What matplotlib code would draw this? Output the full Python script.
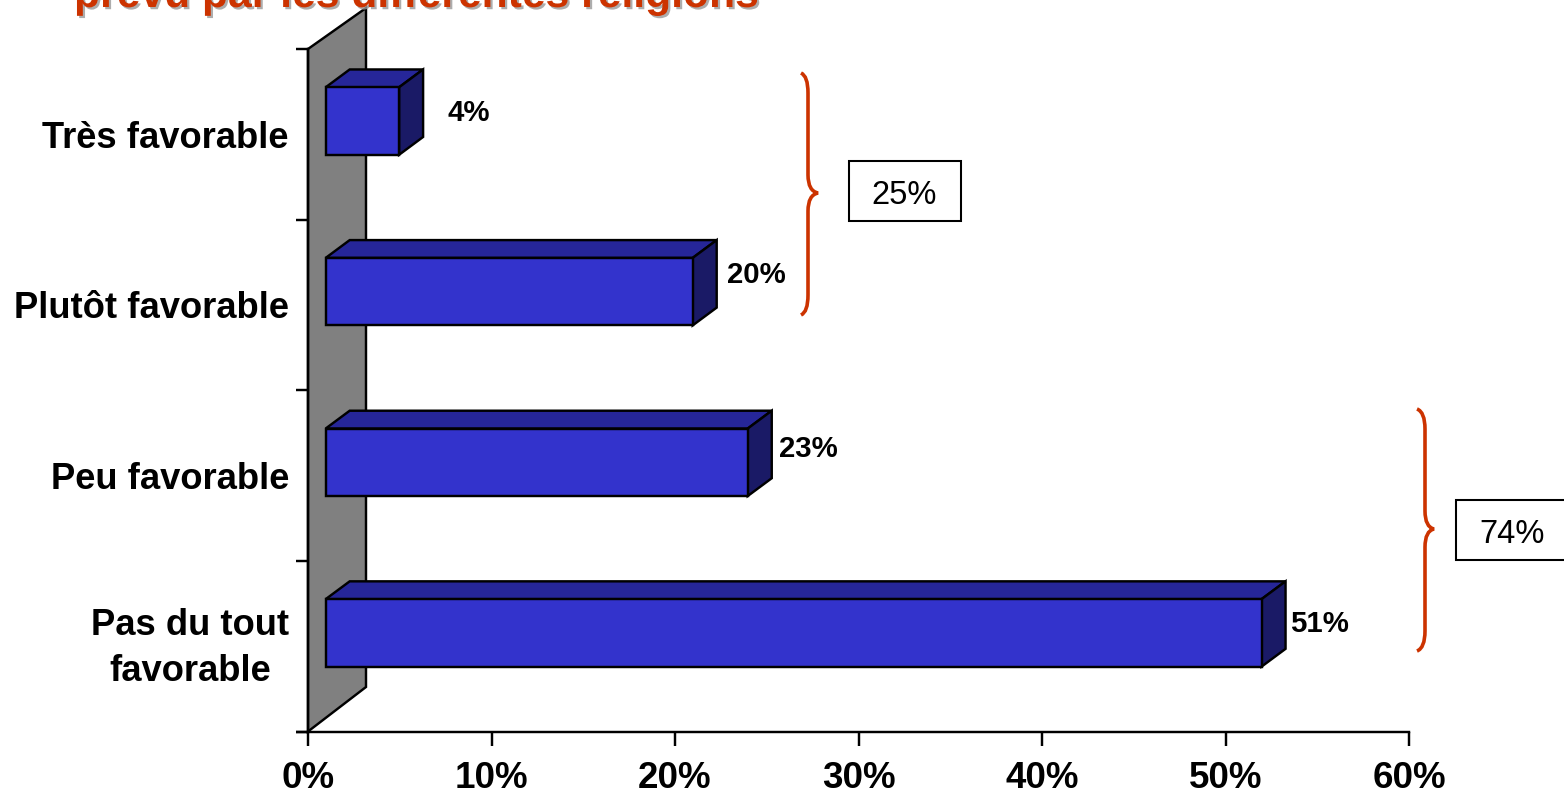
import matplotlib
matplotlib.use("Agg")
import matplotlib.pyplot as plt
import matplotlib.patheffects as pe
from matplotlib.patches import Polygon, PathPatch, Rectangle
from matplotlib.path import Path
from matplotlib.transforms import Affine2D, ScaledTranslation

categories = ["Pas du tout\nfavorable", "Peu favorable", "Plutôt favorable", "Très favorable"]
values = [51, 23, 20, 4]
value_labels = ["51%", "23%", "20%", "4%"]
x_ticks = [0, 10, 20, 30, 40, 50, 60]
x_tick_labels = ["0%", "10%", "20%", "30%", "40%", "50%", "60%"]
title_line = "prévu par les différentes religions"
group_labels = ["25%", "74%"]

FRONT, TOP, SIDE, WALL = "#3333CC", "#262699", "#1A1A66", "#808080"
ORANGE = "#CC3300"
plt.rcParams["font.family"] = ["Liberation Sans", "DejaVu Sans"]
W, H = 1564, 792
LW = 1.75

fig = plt.figure(figsize=(W / 100, H / 100), dpi=100, facecolor="white")
L, R, T, B = 308, 1409, 49, 731.5
ax = fig.add_axes([L / W, (H - B) / H, (R - L) / W, (B - T) / H])
ax.set_xlim(0, 60)
ax.set_ylim(-0.5, 3.5)
ax.patch.set_alpha(0)

px = Affine2D().scale(1, -1).translate(0, H)   # image pixels -> display
ux = 60 / (R - L)          # data units per pixel, x
uy = 4 / (B - T)           # data units per pixel, y
bar_left = 17.7 * ux
depth_x, depth_y = 24 * ux, 17.8 * uy
bar_h = 67.5 * uy
bar_shift = 13.3 * uy

# back wall
ax.add_patch(Polygon([(L, B), (L, T), (366, 8), (366, 687)], closed=True, transform=px,
                     facecolor=WALL, edgecolor="black", lw=LW, clip_on=False, zorder=1))

# bars
label_off = [(29, 8.5), (31, 13), (34, 16.5), (48, 8)]
for i, v in enumerate(values):
    y0 = i + bar_shift - bar_h / 2
    y1 = y0 + bar_h
    ax.barh(i + bar_shift, v, height=bar_h, left=bar_left, color=FRONT,
            edgecolor="black", lw=LW, zorder=3, clip_on=False)
    xe = bar_left + v
    ax.add_patch(Polygon([(bar_left, y1), (bar_left + depth_x, y1 + depth_y),
                          (xe + depth_x, y1 + depth_y), (xe, y1)], closed=True,
                         facecolor=TOP, edgecolor="black", lw=LW, zorder=2, clip_on=False))
    ax.add_patch(Polygon([(xe, y0), (xe + depth_x, y0 + depth_y),
                          (xe + depth_x, y1 + depth_y), (xe, y1)], closed=True,
                         facecolor=SIDE, edgecolor="black", lw=LW, zorder=2, clip_on=False))
    dx, dy = label_off[i]
    ax.annotate(value_labels[i], xy=(xe, i + bar_shift), xytext=(dx * 0.72, dy * 0.72),
                textcoords="offset points", ha="left", va="center",
                fontsize=21.2, fontweight="bold", color="black", zorder=5)

# axes
for s in ("top", "right"):
    ax.spines[s].set_visible(False)
ax.spines["left"].set_linewidth(LW)
ax.spines["bottom"].set_linewidth(LW)
ax.spines["left"].set_zorder(1.5)
ax.set_xticks(x_ticks)
ax.set_xticklabels(x_tick_labels, fontsize=26.5, fontweight="bold")
ax.tick_params(axis="x", length=10, width=LW, pad=11)
ax.set_yticks([-0.5, 0.5, 1.5, 2.5, 3.5])
ax.set_yticklabels([])
ax.tick_params(axis="y", which="major", length=8.6, width=LW)
ax.set_yticks(range(4), minor=True)
ax.set_yticklabels(categories, minor=True, fontsize=26.2, fontweight="bold", ma="center", linespacing=1.41)
ax.tick_params(axis="y", which="minor", length=0, pad=13.7)
first = ax.get_yticklabels(minor=True)[0]
first.set_transform(first.get_transform() + ScaledTranslation(0, 7.5 / 100, fig.dpi_scale_trans))

# title line, cut by the top of the picture
fig.text(74, H - 7, title_line, transform=Affine2D(), fontsize=30.7, fontweight="bold",
         color=ORANGE, ha="left", va="baseline",
         path_effects=[pe.withSimplePatchShadow(offset=(1.6, -1.6), shadow_rgbFace="#999999", alpha=0.8)])


def brace(xe, xs, xt, y0, ym, y1):
    verts = [(xe, y0), (xs, y0 + 3), (xs, y0 + 20),
             (xs, ym - 18), (xs, ym - 2), (xt, ym),
             (xs, ym + 2), (xs, ym + 18),
             (xs, y1 - 20), (xs, y1 - 3), (xe, y1)]
    codes = [Path.MOVETO, Path.CURVE3, Path.CURVE3,
             Path.LINETO, Path.CURVE3, Path.CURVE3,
             Path.CURVE3, Path.CURVE3,
             Path.LINETO, Path.CURVE3, Path.CURVE3]
    ax.add_patch(PathPatch(Path(verts, codes), transform=px, fill=False, edgecolor=ORANGE,
                           lw=2.6, clip_on=False, zorder=4))


brace(801, 808, 818, 73, 193, 315)
brace(1417, 1425, 1434, 409, 529, 651)

for (bx, by, bw, bh, tx), label in zip([(849, 161, 112, 60, 904.5), (1456, 500, 130, 60, 1512)], group_labels):
    ax.add_patch(Rectangle((bx, by), bw, bh, transform=px, facecolor="white", edgecolor="black",
                           lw=LW * 0.85, clip_on=False, zorder=4))
    ax.text(tx, by + bh / 2 + 1, label, transform=px, fontsize=23.5, ha="center", va="center_baseline",
            color="black", zorder=5, clip_on=False)

# extension of the horizontal axis to the left
ax.plot([0, -12 * ux], [-0.5, -0.5], color="black", lw=LW, clip_on=False, solid_capstyle="butt", zorder=2)

fig.savefig("out.png", dpi=100, facecolor="white")
